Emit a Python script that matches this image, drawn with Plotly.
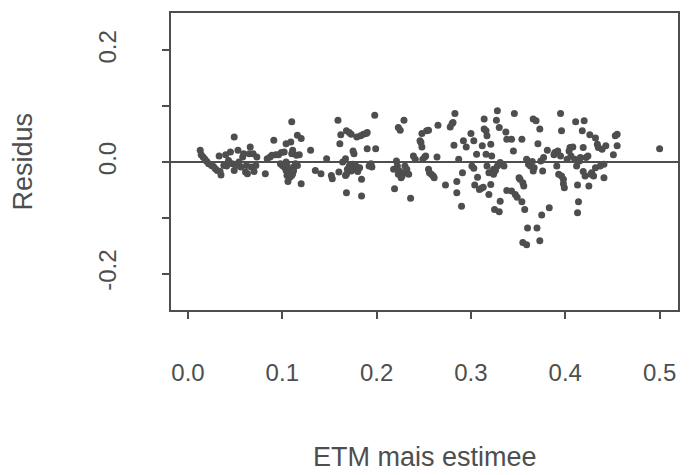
import plotly.graph_objects as go

# Data (x = ETM mais estimee, y = Residus)
etm = [
    0.013, 0.014, 0.016, 0.018, 0.020, 0.022, 0.025, 0.027, 0.029, 0.031, 0.033, 0.034, 0.035, 0.038,
    0.040, 0.041, 0.043, 0.045, 0.047, 0.049, 0.049, 0.051, 0.053, 0.054, 0.056, 0.058, 0.059, 0.061,
    0.062, 0.063, 0.065, 0.066, 0.067, 0.069, 0.070, 0.072, 0.073, 0.082, 0.084, 0.087, 0.089, 0.091,
    0.093, 0.096, 0.098, 0.099, 0.100, 0.102, 0.102, 0.104, 0.104, 0.104, 0.105, 0.105, 0.106, 0.106,
    0.107, 0.108, 0.109, 0.109, 0.110, 0.110, 0.110, 0.111, 0.111, 0.112, 0.112, 0.114, 0.115, 0.116,
    0.116, 0.118, 0.120, 0.120, 0.130, 0.135, 0.141, 0.147, 0.152, 0.153, 0.159, 0.160, 0.161, 0.162,
    0.164, 0.167, 0.167,
    0.168, 0.171, 0.173, 0.168, 0.169, 0.171, 0.173, 0.175, 0.175, 0.176, 0.177, 0.178, 0.179, 0.180,
    0.182, 0.183, 0.184, 0.184, 0.186, 0.189, 0.190, 0.190, 0.192, 0.194, 0.195, 0.198, 0.199, 0.168,
    0.218, 0.219, 0.221, 0.222, 0.223, 0.223, 0.225, 0.224, 0.226, 0.227, 0.229, 0.229, 0.230, 0.232,
    0.234, 0.236, 0.239, 0.241, 0.246, 0.247, 0.248, 0.248, 0.249, 0.251, 0.252, 0.253, 0.255, 0.255,
    0.256, 0.258, 0.260, 0.261, 0.264, 0.265, 0.273, 0.278, 0.280, 0.281, 0.282, 0.283, 0.285, 0.285,
    0.287, 0.290, 0.291, 0.292, 0.295, 0.300, 0.301, 0.303, 0.303, 0.304, 0.306, 0.307, 0.309, 0.311,
    0.312, 0.313, 0.314, 0.314, 0.316, 0.316, 0.317, 0.317, 0.319, 0.319, 0.321, 0.321, 0.322, 0.323,
    0.324, 0.324, 0.325, 0.326, 0.327, 0.328, 0.328, 0.330, 0.330, 0.331, 0.331, 0.333, 0.335, 0.337,
    0.338, 0.338,
    0.346, 0.343, 0.345, 0.343, 0.347, 0.349, 0.351, 0.352, 0.354, 0.355, 0.356, 0.354, 0.357, 0.359,
    0.360, 0.361, 0.363, 0.365, 0.366, 0.366, 0.367, 0.369, 0.370, 0.371, 0.373, 0.373, 0.374, 0.375,
    0.376, 0.377, 0.381, 0.383, 0.388, 0.389, 0.391, 0.392, 0.393, 0.395, 0.395, 0.396, 0.396, 0.398,
    0.398, 0.399, 0.402, 0.404, 0.405, 0.406, 0.408, 0.410, 0.411, 0.412, 0.413, 0.414, 0.413, 0.415,
    0.416, 0.418, 0.419, 0.419, 0.420, 0.421, 0.422, 0.424, 0.425, 0.426, 0.427, 0.428, 0.430, 0.432,
    0.432, 0.434, 0.435, 0.437, 0.439, 0.441, 0.441, 0.443, 0.451, 0.453, 0.455, 0.455, 0.500, 0.355,
    0.359,
]
residus = [
    0.021, 0.013, 0.009, 0.005, 0.001, -0.003, -0.006, -0.008, -0.012, -0.015, 0.011, -0.017, -0.023, -0.006,
    0.013, -0.007, 0.003, 0.018, -0.003, 0.045, -0.015, -0.006, 0.021, 0.000, -0.009, 0.009, 0.015, -0.018,
    -0.006, -0.021, 0.015, 0.027, -0.009, 0.015, -0.017, -0.006, 0.009, -0.021, 0.006, 0.009, 0.012, 0.039,
    0.013, 0.013, -0.003, 0.017, -0.006, 0.018, -0.009, 0.000, 0.033, -0.015, -0.006, -0.024, -0.012, -0.035,
    -0.018, -0.027, 0.036, -0.015, 0.072, 0.015, -0.024, 0.021, -0.021, -0.009, -0.015, -0.003, 0.012, 0.048,
    -0.006, 0.013, 0.042, -0.039, 0.021, -0.015, -0.021, 0.006, -0.024, -0.030, 0.075, -0.018, 0.033, 0.049,
    0.000, -0.024, 0.006,
    0.056, 0.053, 0.050, -0.022, -0.013, -0.007, -0.016, -0.004, 0.020, 0.015, -0.013, -0.007, 0.045, -0.017,
    -0.010, 0.047, -0.031, -0.061, 0.050, 0.051, 0.053, 0.024, -0.007, -0.003, -0.009, 0.084, 0.024, -0.055,
    -0.013, -0.048, 0.002, -0.007, -0.022, 0.062, 0.057, -0.016, -0.028, -0.025, 0.075, -0.019, -0.007, -0.013,
    -0.022, -0.065, 0.011, 0.005, 0.038, 0.035, 0.027, 0.051, 0.005, 0.009, 0.011, 0.056, 0.057, -0.013,
    -0.019, -0.022, -0.025, -0.028, 0.009, 0.066, -0.041, 0.063, 0.069, 0.071, 0.030, 0.087, -0.035, -0.055,
    0.005, -0.079, -0.019, 0.038, 0.027, 0.051, -0.007, -0.011, 0.038, -0.041, 0.014, -0.027, -0.049, -0.047,
    0.029, -0.045, 0.077, 0.059, 0.056, 0.014, -0.007, 0.047, -0.058, -0.019, -0.040, 0.032, 0.011, -0.016,
    -0.022, -0.013, -0.085, -0.015, 0.075, 0.092, -0.007, -0.089, 0.062, -0.070, -0.001, -0.004, -0.007, 0.054,
    0.041, -0.051,
    0.087, 0.041, 0.020, -0.052, -0.058, -0.063, -0.028, -0.031, 0.041, -0.037, -0.043, -0.071, -0.085, 0.005,
    -0.118, -0.004, -0.007, 0.001, 0.077, -0.016, -0.010, 0.074, -0.118, 0.033, -0.141, 0.059, 0.002, -0.095,
    -0.016, 0.008, 0.021, -0.082, 0.013, 0.017, -0.007, 0.020, -0.022, 0.011, 0.087, 0.056, -0.025, -0.031,
    -0.039, -0.046, 0.005, 0.020, 0.026, 0.011, 0.027, 0.005, 0.072, -0.007, -0.041, -0.071, -0.091, 0.002,
    0.008, 0.056, 0.026, -0.017, 0.074, -0.025, 0.008, 0.011, -0.043, 0.049, -0.022, -0.019, -0.025, 0.043,
    -0.010, 0.032, 0.026, -0.007, 0.023, -0.004, -0.028, 0.029, 0.013, 0.047, 0.029, 0.050, 0.024, -0.144,
    -0.148,
]

x_ticks = [0.0, 0.1, 0.2, 0.3, 0.4, 0.5]
x_ticktext = ["0.0", "0.1", "0.2", "0.3", "0.4", "0.5"]
y_ticks = [-0.2, -0.1, 0.0, 0.1, 0.2]
y_ticktext = ["-0.2", "", "0.0", "", "0.2"]

INK = "#4e4e4e"
FONT = "Liberation Sans, Arial, Helvetica, sans-serif"

fig = go.Figure()
fig.add_trace(go.Scatter(
    x=etm, y=residus, mode="markers",
    marker=dict(size=7, color=INK, line=dict(width=0)),
    showlegend=False, hoverinfo="x+y",
))
fig.add_hline(y=0, line=dict(color=INK, width=2))

fig.update_layout(
    width=693, height=475,
    margin=dict(l=171, r=15, t=13, b=165),
    paper_bgcolor="white", plot_bgcolor="white",
    font=dict(family=FONT, color=INK, size=24),
    annotations=[
        dict(text="ETM mais estimee", xref="paper", yref="paper", x=0.5, y=-0.495,
             showarrow=False, xanchor="center", yanchor="middle", font=dict(size=27, color=INK)),
        dict(text="Residus", xref="paper", yref="paper", x=-0.292, y=0.5, textangle=-90,
             showarrow=False, xanchor="center", yanchor="middle", font=dict(size=27, color=INK)),
    ],
)
fig.update_xaxes(
    range=[-0.018, 0.5195], tickvals=x_ticks, ticktext=x_ticktext,
    showgrid=False, zeroline=False, showline=True, mirror=True,
    linecolor=INK, linewidth=2, ticks="outside", ticklen=7, tickwidth=1.5, tickcolor=INK,
    ticklabelstandoff=33, tickfont=dict(size=24, color=INK),
)
fig.update_yaxes(
    range=[-0.265, 0.267], tickvals=y_ticks, ticktext=y_ticktext, tickangle=-90,
    showgrid=False, zeroline=False, showline=True, mirror=True,
    linecolor=INK, linewidth=2, ticks="outside", ticklen=7, tickwidth=1.5, tickcolor=INK,
    ticklabelstandoff=36, tickfont=dict(size=24, color=INK),
)

fig.write_html("out.html")
